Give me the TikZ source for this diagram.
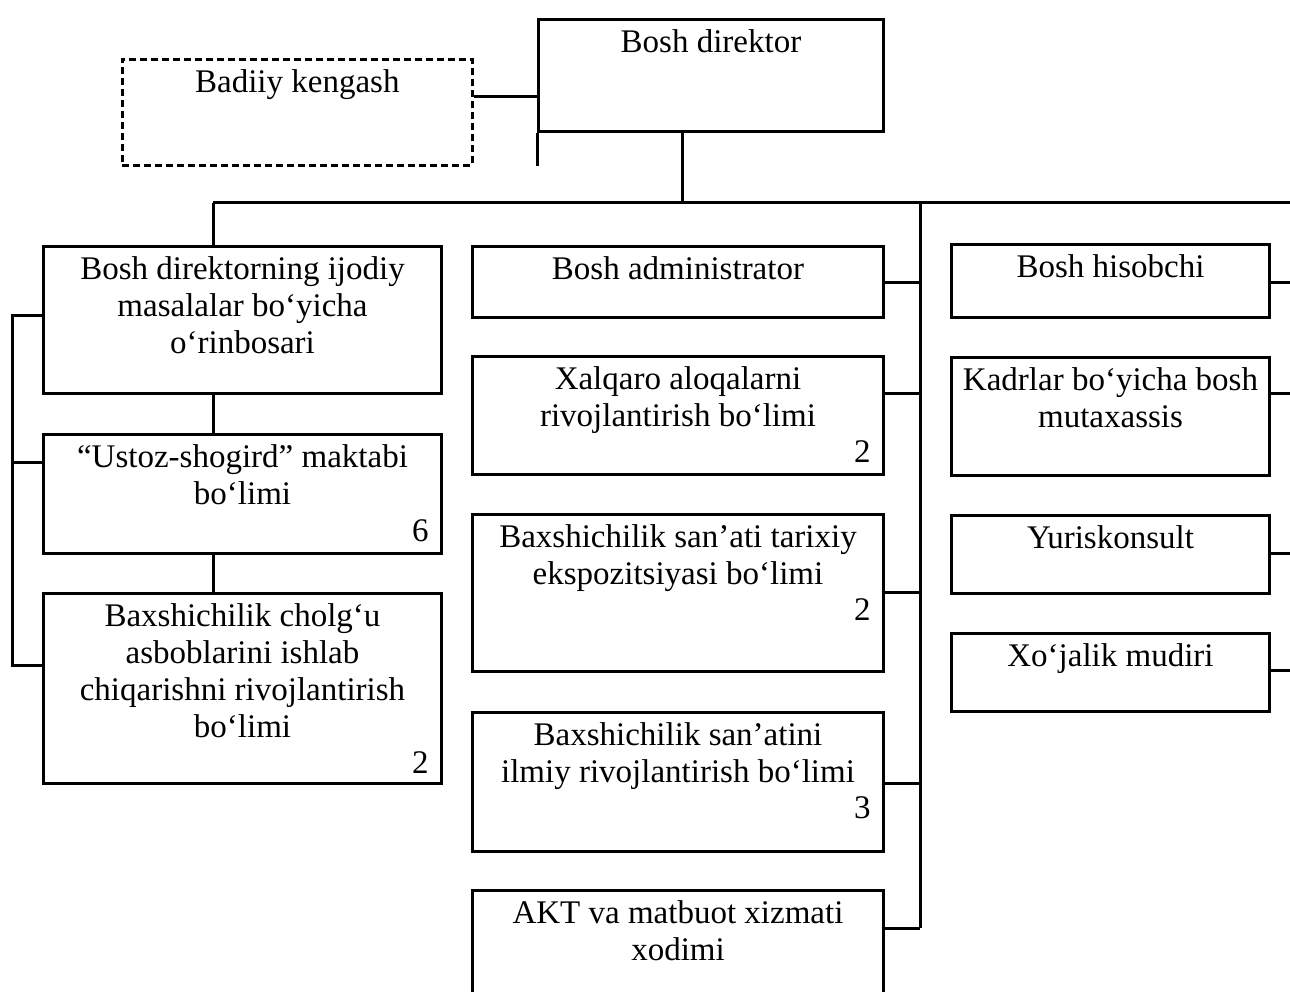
\documentclass[tikz,border=0pt]{standalone}
\usepackage{fontspec}
\setmainfont{Liberation Serif}
\begin{document}
\begin{tikzpicture}[x=1pt,y=-1pt, line width=3pt,
  conn/.style={draw, line width=3pt},
  box/.style={draw, line width=3pt, inner sep=0pt, anchor=north west},
  dbox/.style={draw, line width=2.6pt, dash pattern=on 7pt off 4pt, inner sep=0pt, anchor=north west},
  txt/.style={font=\fontsize{33}{37}\selectfont, align=center, inner sep=0pt, anchor=north},
  num/.style={font=\fontsize{33}{37}\selectfont, inner sep=0pt, anchor=base east}]
\useasboundingbox (0,0) rectangle (1290,992);

% top
\node[box, minimum width=345pt, minimum height=112pt] (bd) at (537,18) {};
\node[txt] (bdt) at ([yshift=-7pt]bd.north) {\strut Bosh direktor};
\node[dbox, minimum width=350pt, minimum height=106pt] (bk) at (121,58) {};
\node[txt] (bkt) at ([yshift=-7pt]bk.north) {\strut Badiiy kengash};

% left column
\node[box, minimum width=398pt, minimum height=147pt] (b1) at (42,245) {};
\node[txt] (b1t) at ([yshift=-7pt]b1.north) {\strut Bosh direktorning ijodiy\\masalalar bo‘yicha\\o‘rinbosari};
\node[box, minimum width=398pt, minimum height=119pt] (b2) at (42,433) {};
\node[txt] (b2t) at ([yshift=-7pt]b2.north) {\strut “Ustoz-shogird” maktabi\\bo‘limi};
\node[num] (b2n) at ([xshift=-13pt]b2.east |- 0,541) {6};
\node[box, minimum width=398pt, minimum height=190pt] (b3) at (42,592) {};
\node[txt] (b3t) at ([yshift=-7pt]b3.north) {\strut Baxshichilik cholg‘u\\asboblarini ishlab\\chiqarishni rivojlantirish\\bo‘limi};
\node[num] (b3n) at ([xshift=-13pt]b3.east |- 0,773) {2};

% middle column
\node[box, minimum width=411pt, minimum height=71pt] (m1) at (471,245) {};
\node[txt] (m1t) at ([yshift=-7pt]m1.north) {\strut Bosh administrator};
\node[box, minimum width=411pt, minimum height=118pt] (m2) at (471,355) {};
\node[txt] (m2t) at ([yshift=-7pt]m2.north) {\strut Xalqaro aloqalarni\\rivojlantirish bo‘limi};
\node[num] (m2n) at ([xshift=-13pt]m2.east |- 0,462) {2};
\node[box, minimum width=411pt, minimum height=157pt] (m3) at (471,513) {};
\node[txt] (m3t) at ([yshift=-7pt]m3.north) {\strut Baxshichilik san’ati tarixiy\\ekspozitsiyasi bo‘limi};
\node[num] (m3n) at ([xshift=-13pt]m3.east |- 0,620) {2};
\node[box, minimum width=411pt, minimum height=139pt] (m4) at (471,711) {};
\node[txt] (m4t) at ([yshift=-7pt]m4.north) {\strut Baxshichilik san’atini\\ilmiy rivojlantirish bo‘limi};
\node[num] (m4n) at ([xshift=-13pt]m4.east |- 0,818) {3};
\node[box, minimum width=411pt, minimum height=140pt] (m5) at (471,889) {};
\node[txt] (m5t) at ([yshift=-7pt]m5.north) {\strut AKT va matbuot xizmati\\xodimi};

% right column
\node[box, minimum width=318pt, minimum height=73pt] (r1) at (950,243) {};
\node[txt] (r1t) at ([yshift=-7pt]r1.north) {\strut Bosh hisobchi};
\node[box, minimum width=318pt, minimum height=118pt] (r2) at (950,356) {};
\node[txt] (r2t) at ([yshift=-7pt]r2.north) {\strut Kadrlar bo‘yicha bosh\\mutaxassis};
\node[box, minimum width=318pt, minimum height=78pt] (r3) at (950,514) {};
\node[txt] (r3t) at ([yshift=-7pt]r3.north) {\strut Yuriskonsult};
\node[box, minimum width=318pt, minimum height=78pt] (r4) at (950,632) {};
\node[txt] (r4t) at ([yshift=-7pt]r4.north) {\strut Xo‘jalik mudiri};

% connectors
\coordinate (busL) at (213,203);
\coordinate (busR) at (1295,203);
\coordinate (midT) at (920,203);
\coordinate (midB) at (920,928);
\coordinate (bdJ) at (682,203);
\coordinate (rEdge) at (1295,0);
\coordinate (brk) at (12,0);

\path[conn] (bk.east |- 0,97) -- (bd.west |- 0,97);
\path[conn] (bd.south west) -- ++(0,33);
\path[conn] (bd.south -| bdJ) -- (bdJ);
\path[conn] (busL) -- (busR);
\path[conn] (busL) -- (b1.north -| busL);
\path[conn] (b1.south -| busL) -- (b2.north -| busL);
\path[conn] (b2.south -| busL) -- (b3.north -| busL);
\path[conn] (b1.west |- 0,315) -- (brk |- 0,315) -- (brk |- 0,665) -- (b3.west |- 0,665);
\path[conn] (b2.west |- 0,462) -- (brk |- 0,462);
\path[conn] (midT) -- (midB);
\path[conn] (m1.east |- 0,283) -- (midT |- 0,283);
\path[conn] (m2.east |- 0,393) -- (midT |- 0,393);
\path[conn] (m3.east |- 0,592) -- (midT |- 0,592);
\path[conn] (m4.east |- 0,783) -- (midT |- 0,783);
\path[conn] (m5.east |- midB) -- (midB);
\path[conn] (r1.east |- 0,283) -- (rEdge |- 0,283);
\path[conn] (r2.east |- 0,393) -- (rEdge |- 0,393);
\path[conn] (r3.east |- 0,553) -- (rEdge |- 0,553);
\path[conn] (r4.east |- 0,670) -- (rEdge |- 0,670);
\end{tikzpicture}
\end{document}
